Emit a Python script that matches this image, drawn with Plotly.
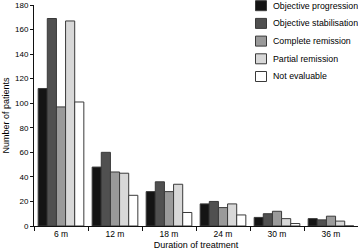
import plotly.graph_objects as go

categories = ["6 m", "12 m", "18 m", "24 m", "30 m", "36 m"]
series_names = ["Objective progression", "Objective stabilisation", "Complete remission",
                "Partial remission", "Not evaluable"]
objective_progression = [112, 48, 28, 18, 7, 6]
objective_stabilisation = [169, 60, 36, 20, 10, 5]
complete_remission = [97, 44, 28, 15, 12, 8]
partial_remission = [167, 43, 34, 18, 6, 4]
not_evaluable = [101, 25, 11, 9, 2, 0]
y_ticks = [0, 20, 40, 60, 80, 100, 120, 140, 160, 180]

values = [objective_progression, objective_stabilisation, complete_remission,
          partial_remission, not_evaluable]
colors = ["#141414", "#505050", "#9a9a9a", "#d8d8d8", "#ffffff"]

W, H = 358, 250
ML, MR, MT, MB = 34, 0, 5, 24
pw, ph = W - ML - MR, H - MT - MB

def px_x(px):
    return (px - ML) / pw

def px_y(py):
    return (H - MB - py) / ph

fig = go.Figure()
for name, vals, col in zip(series_names, values, colors):
    fig.add_trace(go.Bar(x=categories, y=vals, name=name, showlegend=False,
                         marker=dict(color=col, line=dict(color="#3a3a3a", width=1))))

# manual legend
row_y = [5.7, 23.4, 41.1, 58.8, 76.5]
shapes = []
annotations = []
for name, col, ry in zip(series_names, colors, row_y):
    shapes.append(dict(type="rect", xref="paper", yref="paper",
                       x0=px_x(255.5), x1=px_x(266.5), y0=px_y(ry + 5), y1=px_y(ry - 5),
                       fillcolor=col, line=dict(color="#3a3a3a", width=1)))
    annotations.append(dict(xref="paper", yref="paper", x=px_x(270.5), y=px_y(ry),
                            xanchor="left", yanchor="middle", showarrow=False,
                            text=name, font=dict(size=8.8, color="#000")))

fig.update_layout(
    width=W, height=H,
    margin=dict(l=ML, r=MR, t=MT, b=MB, autoexpand=False),
    barmode="group", bargap=0.154, bargroupgap=0,
    plot_bgcolor="white", paper_bgcolor="white",
    font=dict(family="Liberation Sans, Arial, sans-serif", size=8, color="#000"),
    shapes=shapes, annotations=annotations,
    xaxis=dict(showline=True, linecolor="#111", linewidth=1, ticks="outside",
               tickson="boundaries", ticklen=4, tickcolor="#111",
               tickfont=dict(size=8.5),
               title=dict(text="Duration of treatment", standoff=4, font=dict(size=9))),
    yaxis=dict(range=[0, 180], tickvals=y_ticks, showline=True, linecolor="#111",
               linewidth=1, ticks="outside", ticklen=3, tickcolor="#111",
               showgrid=False, zeroline=False,
               title=dict(text="Number of patients", standoff=3, font=dict(size=9))),
)
fig.write_html("out.html", config={"displayModeBar": False},
               post_script="document.body.style.margin='0px';document.body.style.overflow='hidden';")
